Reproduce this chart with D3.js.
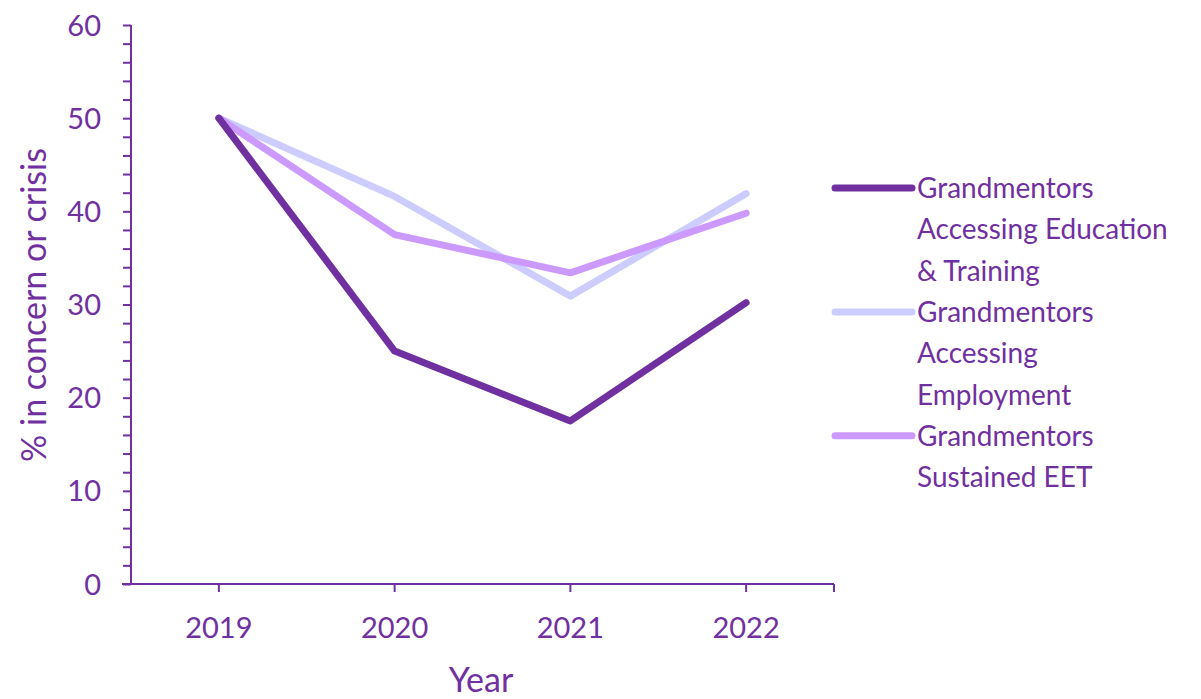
<!DOCTYPE html>
<html><head><meta charset="utf-8">
<script src="https://cdn.jsdelivr.net/npm/d3@7"></script>
<style>
html,body{margin:0;padding:0;background:#fff;}
svg text{font-family:Lato,"Open Sans",sans-serif;fill:#7030A0;}
</style></head>
<body><svg id="c" width="1201" height="699"></svg>
<script>
const years = ["2019","2020","2021","2022"];
const educationTraining = [50, 25, 17.5, 30.2];
const employment = [50, 41.6, 30.9, 41.9];
const sustainedEET = [50, 37.5, 33.4, 39.8];
const yTicks = [0,10,20,30,40,50,60];
const seriesNames = [
  ["Grandmentors","Accessing Education","& Training"],
  ["Grandmentors","Accessing","Employment"],
  ["Grandmentors","Sustained EET"]
];
const seriesColors = ["#7030A0","#CCCCFF","#CC99FF"];
const seriesValues = [educationTraining, employment, sustainedEET];

const svg = d3.select("#c");
const axisColor = "#7030A0";
const pLeft = 131, pRight = 834, pTop = 25, pBottom = 584;

const x = d3.scaleBand().domain(years).range([pLeft, pRight]);
const y = d3.scaleLinear().domain([0,60]).range([pBottom, pTop]);

// Y axis
const yAxis = d3.axisLeft(y).tickValues(d3.range(0,61,2)).tickSize(8).tickFormat(d => yTicks.includes(d) ? d : "");
const gy = svg.append("g").attr("transform",`translate(${pLeft},0)`).call(yAxis);
gy.select(".domain").attr("stroke",axisColor).attr("stroke-width",2).attr("d",`M-0,${pBottom}V${pTop}`);
gy.selectAll(".tick line").attr("stroke",axisColor).attr("stroke-width",2);
gy.selectAll(".tick text").attr("x",-30).attr("font-size",29).attr("dy","0.35em").style("fill",axisColor).style("font-family","Lato");

// X axis
const gx = svg.append("g").attr("transform",`translate(0,${pBottom})`);
gx.append("line").attr("x1",pLeft-9).attr("x2",pRight).attr("y1",0).attr("y2",0).attr("stroke",axisColor).attr("stroke-width",2);
const xTickPos = years.map(d => x(d) + x.bandwidth()/2).concat([pRight]);
gx.selectAll("line.t").data(xTickPos).enter().append("line").attr("class","t")
  .attr("x1",d=>d).attr("x2",d=>d).attr("y1",0).attr("y2",8).attr("stroke",axisColor).attr("stroke-width",2);
gx.selectAll("text").data(years).enter().append("text")
  .attr("x",d=>x(d)+x.bandwidth()/2).attr("y",54).attr("text-anchor","middle").attr("font-size",29).text(d=>d);

// Axis titles
svg.append("text").attr("transform",`translate(46,305) rotate(-90)`).attr("text-anchor","middle")
  .attr("font-size",34).text("% in concern or crisis");
svg.append("text").attr("x",481).attr("y",692).attr("text-anchor","middle").attr("font-size",34).text("Year");

// Lines
const line = d3.line().x((d,i)=>x(years[i])+x.bandwidth()/2).y(d=>y(d));
const order = [1,2,0];
order.forEach(k => {
  svg.append("path").datum(seriesValues[k]).attr("d",line).attr("fill","none")
    .attr("stroke",seriesColors[k]).attr("stroke-width",7).attr("stroke-linecap","round").attr("stroke-linejoin","round");
});

// Legend
const lineH = 41.3;
let yy = 188;
seriesNames.forEach((names,k) => {
  svg.append("line").attr("x1",835).attr("x2",912).attr("y1",yy).attr("y2",yy)
    .attr("stroke",seriesColors[k]).attr("stroke-width",7).attr("stroke-linecap","round");
  names.forEach((t,j) => {
    svg.append("text").attr("x",917).attr("y",yy + 10 + j*lineH).attr("font-size",28).text(t);
  });
  yy += 3*lineH;
});
</script></body></html>
